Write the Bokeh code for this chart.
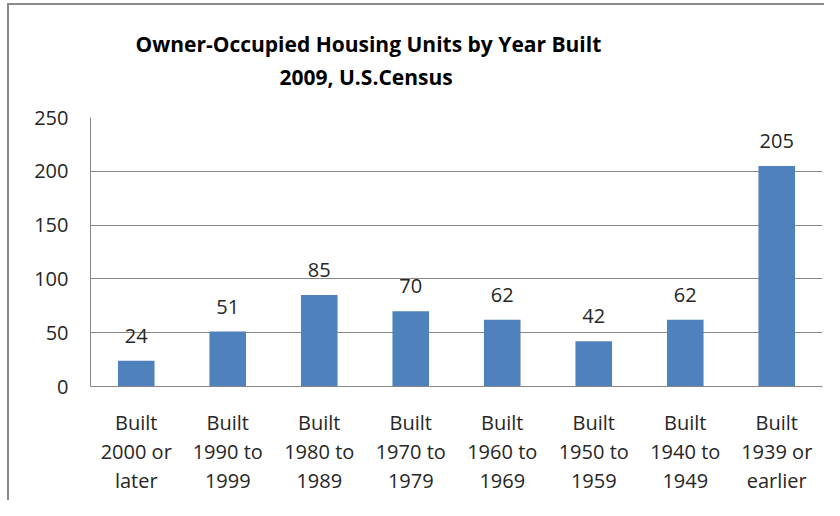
from bokeh.plotting import figure
from bokeh.models import Range1d, FixedTicker, Title
from bokeh.core.properties import value
from bokeh.embed import file_html
from bokeh.resources import INLINE

categories = [
    "Built\n2000 or\nlater",
    "Built\n1990 to\n1999",
    "Built\n1980 to\n1989",
    "Built\n1970 to\n1979",
    "Built\n1960 to\n1969",
    "Built\n1950 to\n1959",
    "Built\n1940 to\n1949",
    "Built\n1939 or\nearlier",
]
units = [24, 51, 85, 70, 62, 42, 62, 205]
y_ticks = [0, 50, 100, 150, 200, 250]
title_line1 = "Owner-Occupied Housing Units by Year Built"
title_line2 = "2009, U.S.Census"

FONT = "Open Sans"
TXT = "#262626"
GRID = "#878787"
BAR = "#4F81BD"
FRAME = "#8a8a8a"

bg = (
    f"linear-gradient({FRAME},{FRAME}) 7px 3px / 2px 100% no-repeat, "
    f"linear-gradient({FRAME},{FRAME}) 7px 3px / 100% 2px no-repeat, white"
)

p = figure(
    x_range=categories,
    y_range=Range1d(0, 250),
    width=824,
    height=500,
    output_backend="svg",
    toolbar_location=None,
    min_border_left=90,
    min_border_top=117,
    min_border_right=2,
    min_border_bottom=114,
    styles={"background": bg},
)

p.vbar(x=categories, top=units, width=0.4, fill_color=BAR, line_color=None)

p.text(
    x=categories,
    y=units,
    text=[str(v) for v in units],
    y_offset=-25,
    text_align="center",
    text_baseline="alphabetic",
    text_font=value(FONT),
    text_font_size="20px",
    text_color=TXT,
)

p.outline_line_color = None
p.background_fill_color = "white"
p.border_fill_color = None

p.xgrid.grid_line_color = None
p.ygrid.grid_line_color = GRID
p.ygrid.grid_line_width = 1

p.yaxis.ticker = FixedTicker(ticks=y_ticks)
p.yaxis.axis_line_color = GRID
p.yaxis.major_tick_line_color = None
p.yaxis.minor_tick_line_color = None
p.yaxis.major_tick_out = 0
p.yaxis.major_tick_in = 0
p.yaxis.major_label_standoff = 22
p.yaxis.major_label_text_font = FONT
p.yaxis.major_label_text_font_size = "20px"
p.yaxis.major_label_text_color = TXT

p.xaxis.axis_line_color = GRID
p.xaxis.major_tick_line_color = None
p.xaxis.minor_tick_line_color = None
p.xaxis.major_tick_out = 0
p.xaxis.major_tick_in = 0
p.xaxis.major_label_standoff = 22
p.xaxis.major_label_text_font = FONT
p.xaxis.major_label_text_font_size = "20px"
p.xaxis.major_label_text_color = TXT
p.xaxis.major_label_text_line_height = 1.09

# spacer between the plot frame and the two title lines
p.add_layout(Title(text=" ", text_font=FONT, text_font_size="10px", standoff=9), "above")
p.add_layout(Title(text=title_line2, align="left", offset=189,
                   text_font=FONT, text_font_size="21px", text_font_style="bold",
                   text_color="#000000", standoff=4), "above")
p.add_layout(Title(text=title_line1, align="left", offset=45,
                   text_font=FONT, text_font_size="21px", text_font_style="bold",
                   text_color="#000000", standoff=2), "above")

open("out.html", "w").write(file_html(p, INLINE))
